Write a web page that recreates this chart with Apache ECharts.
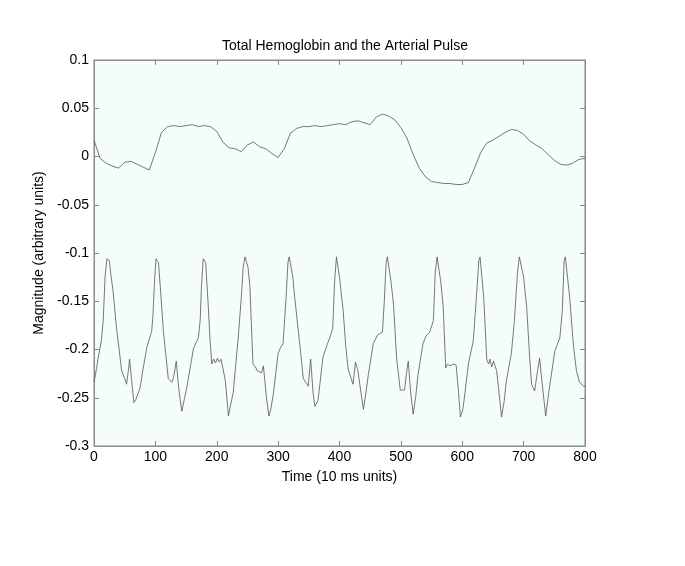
<!DOCTYPE html>
<html>
<head>
<meta charset="utf-8">
<title>Total Hemoglobin and the Arterial Pulse</title>
<script src="https://cdn.jsdelivr.net/npm/echarts@6/dist/echarts.min.js"></script>
<style>
  html, body { margin: 0; padding: 0; background: #fff; }
  #chart { width: 685px; height: 566px; }
</style>
</head>
<body>
<div id="chart"></div>
<script>
// total hemoglobin trace, every 10 time units
var hbTime = [0,10,20,30,40,50,60,70,80,90,100,110,120,130,140,150,160,170,180,190,
  200,210,220,230,240,250,260,270,280,290,300,310,320,330,340,350,360,370,380,390,
  400,410,420,430,440,450,460,470,480,490,500,510,520,530,540,550,560,570,580,590,
  600,610,620,630,640,650,660,670,680,690,700,710,720,730,740,750,760,770,780,790,800];
var hbValue = [0.017,-0.002,-0.007,-0.010,-0.012,-0.006,-0.005,-0.008,-0.011,-0.014,
  0.004,0.025,0.031,0.032,0.031,0.032,0.033,0.031,0.032,0.031,
  0.026,0.015,0.009,0.008,0.005,0.012,0.015,0.010,0.008,0.003,
  -0.001,0.008,0.024,0.029,0.031,0.031,0.032,0.031,0.032,0.033,
  0.034,0.033,0.036,0.037,0.035,0.033,0.041,0.044,0.042,0.038,
  0.030,0.019,0.002,-0.012,-0.021,-0.026,-0.027,-0.028,-0.028,-0.029,
  -0.029,-0.027,-0.012,0.004,0.014,0.017,0.021,0.025,0.028,0.027,
  0.023,0.016,0.012,0.008,0.002,-0.004,-0.008,-0.009,-0.007,-0.003,-0.002];

// arterial pulse trace, key points
var pulseTime = [0,4,7,12,15,18,21,23,25,28,31,37,41,45,50,53,56,58,61,65,68,75,80,86,94,
  96,99,101,103,105,108,113,117,121,127,130,134,138,143,147,151,157,162,170,
  173,175,178,180,182,186,189,192,195,198,201,204,207,210,214,219,223,227,231,235,240,
  243,246,249,251,254,259,263,266,269,273,276,281,285,288,292,300,304,308,
  313,316,318,320,324,327,336,341,345,349,353,357,360,365,373,380,384,389,
  392,395,397,400,406,410,414,419,422,426,430,435,439,443,447,455,462,470,
  473,476,478,480,484,488,493,499,506,509,512,516,520,524,528,536,541,547,553,
  556,559,561,565,569,573,576,580,586,590,594,597,601,604,610,618,
  623,627,629,631,635,640,643,645,648,651,656,660,664,668,672,680,685,
  690,693,696,700,705,710,713,718,722,726,731,736,742,751,759,
  763,766,768,770,775,781,786,791,798,800];
var pulseValue = [-0.234,-0.220,-0.208,-0.191,-0.170,-0.125,-0.106,-0.104,-0.108,-0.125,-0.139,-0.180,-0.200,-0.222,-0.230,-0.236,-0.222,-0.210,-0.230,-0.255,-0.252,-0.240,-0.220,-0.198,-0.181,
  -0.165,-0.125,-0.106,-0.104,-0.110,-0.135,-0.181,-0.205,-0.230,-0.234,-0.228,-0.212,-0.240,-0.264,-0.252,-0.240,-0.218,-0.199,-0.188,
  -0.170,-0.135,-0.106,-0.104,-0.110,-0.153,-0.190,-0.215,-0.210,-0.214,-0.209,-0.213,-0.210,-0.212,-0.232,-0.269,-0.256,-0.244,-0.215,-0.188,-0.146,
  -0.115,-0.104,-0.104,-0.115,-0.135,-0.215,-0.218,-0.222,-0.220,-0.224,-0.217,-0.250,-0.269,-0.262,-0.247,-0.204,-0.198,-0.194,
  -0.146,-0.110,-0.104,-0.106,-0.125,-0.146,-0.199,-0.230,-0.234,-0.238,-0.210,-0.245,-0.259,-0.253,-0.208,-0.195,-0.188,-0.178,
  -0.130,-0.104,-0.106,-0.125,-0.160,-0.195,-0.220,-0.230,-0.236,-0.213,-0.222,-0.245,-0.262,-0.245,-0.226,-0.194,-0.185,-0.182,
  -0.150,-0.110,-0.104,-0.106,-0.130,-0.153,-0.209,-0.242,-0.242,-0.225,-0.212,-0.245,-0.267,-0.250,-0.226,-0.194,-0.186,-0.182,-0.170,
  -0.120,-0.104,-0.106,-0.130,-0.156,-0.219,-0.215,-0.217,-0.215,-0.216,-0.245,-0.270,-0.262,-0.247,-0.215,-0.191,
  -0.146,-0.108,-0.104,-0.106,-0.146,-0.211,-0.215,-0.210,-0.218,-0.212,-0.222,-0.245,-0.270,-0.255,-0.232,-0.204,-0.170,
  -0.120,-0.104,-0.106,-0.125,-0.156,-0.210,-0.236,-0.243,-0.225,-0.209,-0.240,-0.269,-0.240,-0.201,-0.188,
  -0.160,-0.108,-0.104,-0.106,-0.146,-0.195,-0.222,-0.234,-0.238,-0.238];

var xTicks = [0,100,200,300,400,500,600,700,800];
var yTicks = [0.1,0.05,0,-0.05,-0.1,-0.15,-0.2,-0.25,-0.3];

function pairs(xs, ys) {
  var out = [];
  for (var i = 0; i < xs.length; i++) out.push([xs[i], ys[i]]);
  return out;
}

var font = 'Liberation Sans, Arial, Helvetica, sans-serif';
var frame = '#8a8a8a';

function frameAxis(extra) {
  var ax = {
    type: 'value',
    axisLine: {show: true, onZero: false, lineStyle: {color: frame}},
    axisTick: {show: true, inside: true, length: 5, lineStyle: {color: frame}},
    axisLabel: {show: false},
    splitLine: {show: false}
  };
  for (var k in extra) ax[k] = extra[k];
  return ax;
}

var myChart = echarts.init(document.getElementById('chart'), null, {renderer: 'canvas'});
var option = {
  backgroundColor: '#ffffff',
  animation: false,
  title: {
    text: 'Total Hemoglobin and the Arterial Pulse',
    left: 340,
    top: 34,
    textAlign: 'center',
    textStyle: {fontFamily: font, fontSize: 14, fontWeight: 'normal', color: '#000'}
  },
  grid: {
    left: 94, right: 100, top: 60, bottom: 120,
    show: true, backgroundColor: '#f4fcfc', borderColor: frame, borderWidth: 1
  },
  xAxis: [
    frameAxis({
      position: 'bottom',
      min: xTicks[0], max: xTicks[xTicks.length - 1], interval: 100,
      name: 'Time (10 ms units)',
      nameLocation: 'middle', nameGap: 24,
      nameTextStyle: {fontFamily: font, fontSize: 14, color: '#000'},
      axisLabel: {show: true, fontFamily: font, fontSize: 14, color: '#000', margin: 4}
    }),
    frameAxis({
      position: 'top',
      min: xTicks[0], max: xTicks[xTicks.length - 1], interval: 100
    })
  ],
  yAxis: [
    frameAxis({
      position: 'left',
      min: yTicks[yTicks.length - 1], max: yTicks[0], interval: 0.05,
      name: 'Magnitude (arbitrary units)',
      nameLocation: 'middle', nameGap: 45,
      nameTextStyle: {fontFamily: font, fontSize: 14, color: '#000'},
      axisLabel: {
        show: true, fontFamily: font, fontSize: 14, color: '#000', margin: 5,
        formatter: function (v) { return String(parseFloat(v.toFixed(2))); }
      }
    }),
    frameAxis({
      position: 'right',
      min: yTicks[yTicks.length - 1], max: yTicks[0], interval: 0.05
    })
  ],
  series: [
    {
      name: 'Total Hemoglobin',
      type: 'line',
      data: pairs(hbTime, hbValue),
      showSymbol: false,
      lineStyle: {color: '#555', width: 0.8}
    },
    {
      name: 'Arterial Pulse',
      type: 'line',
      data: pairs(pulseTime, pulseValue),
      showSymbol: false,
      lineStyle: {color: '#555', width: 0.8}
    }
  ]
};
myChart.setOption(option);
</script>
</body>
</html>
